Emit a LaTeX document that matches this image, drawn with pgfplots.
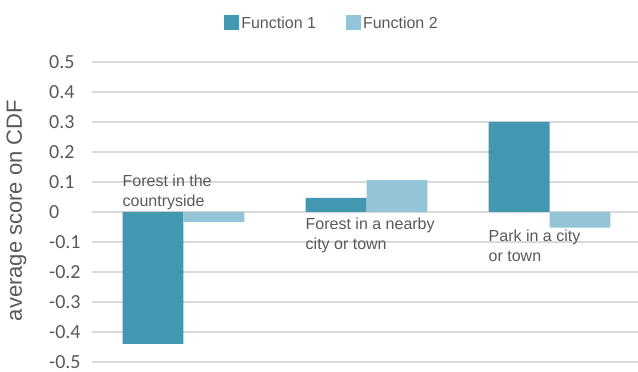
\documentclass[border=0pt]{standalone}
\usepackage{pgfplots}
\pgfplotsset{compat=1.18}
\usepackage{fontspec}
\setmainfont{Liberation Sans}
\newfontfamily\carlito{Carlito}

\definecolor{fone}{HTML}{4297B1}
\definecolor{ftwo}{HTML}{93C4D8}
\definecolor{txt}{HTML}{595959}
\definecolor{gridgray}{HTML}{D9D9D9}

\begin{document}
\begin{tikzpicture}
\begin{axis}[
  scale only axis,
  width=546pt, height=300pt,
  xmin=-0.5, xmax=2.4836,
  ymin=-0.5, ymax=0.5,
  ybar=0pt, bar width=0.3333,
  axis line style={draw=none},
  major tick length=0pt,
  xtick=\empty,
  ytick={-0.5,-0.4,-0.3,-0.2,-0.1,0,0.1,0.2,0.3,0.4,0.5},
  yticklabels={-0.5,-0.4,-0.3,-0.2,-0.1,0,0.1,0.2,0.3,0.4,0.5},
  yticklabel style={font=\carlito\fontsize{20}{24}\selectfont, text=txt,
                    anchor=west, inner sep=0pt, xshift=-43pt},
  ymajorgrids,
  major grid style={draw=gridgray, line width=1.5pt},
  every axis y label/.style={at={(axis description cs:-0.1282,0.505)},
                             rotate=90, anchor=base,
                             font=\fontsize{22}{26}\selectfont, text=txt},
  ylabel={average score on CDF},
  legend columns=2,
  legend style={at={(axis description cs:0.4396,1.13)}, anchor=center,
                draw=none, fill=none,
                font=\fontsize{16}{19}\selectfont, text=txt,
                nodes={inner sep=2pt},
                /tikz/every even column/.append style={column sep=28pt}},
  legend image code/.code={\fill[#1] (0pt,-7.5pt) rectangle (15pt,7.5pt);},
  clip=false,
]
\addplot[fill=fone, draw=none] coordinates {(0,-0.44) (1,0.047) (2,0.3)};
\addplot[fill=ftwo, draw=none] coordinates {(0,-0.034) (1,0.106) (2,-0.052)};
\legend{Function 1, Function 2}

% category captions, left-aligned with the first bar of each group
\begin{scope}[every node/.style={anchor=north west, inner sep=0pt, align=left,
              font=\fontsize{16}{20}\selectfont, text=txt}]
\node at (axis cs:-0.3333,0.1233) {Forest in the\\countryside};
\node at (axis cs:0.6667,-0.02) {Forest in a nearby\\city or town};
\node at (axis cs:1.6667,-0.06) {Park in a city\\or town};
\end{scope}
\end{axis}
\pgfresetboundingbox
\path[use as bounding box] (-92pt,-10pt) rectangle (546pt,362pt);
\end{tikzpicture}
\end{document}
